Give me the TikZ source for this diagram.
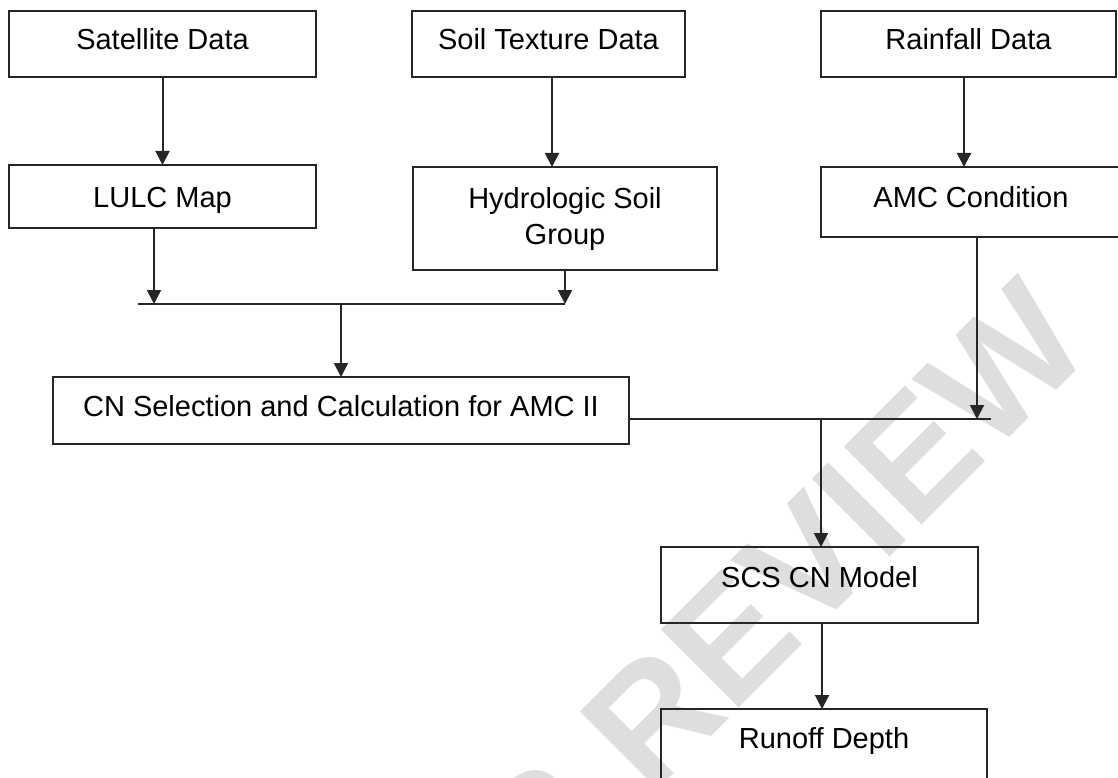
\documentclass[tikz,border=0pt]{standalone}
\usepackage{fontspec}
\setmainfont{Liberation Sans}
\usetikzlibrary{arrows.meta}
\begin{document}
\begin{tikzpicture}[x=1pt,y=-1pt,
  box/.style={draw=black!85, line width=2pt, inner sep=0pt, outer sep=0pt,
    font=\fontsize{29}{36}\selectfont, text depth=6pt},
  arr/.style={draw=black!85, line width=2pt, -{Triangle[width=14pt,length=14pt]}},
  ln/.style={draw=black!85, line width=2pt},
  wmark/.style={text=black!13, font=\fontsize{160}{160}\selectfont\bfseries, inner sep=0pt,
    text height=114.6pt, text depth=0pt}]
\useasboundingbox (0,0) rectangle (1118,778);
\fill[white] (0,0) rectangle (1118,778);
% watermark
\node[wmark, rotate=45] (wm) at (663,703) {PEER REVIEW};
% boxes
\node[box, minimum width=307pt, minimum height=66pt, text height=16.8pt] (sat) at (162.5,44) {Satellite Data};
\node[box, minimum width=273pt, minimum height=66pt, text height=16.8pt] (soil) at (548.5,44) {Soil Texture Data};
\node[box, minimum width=295pt, minimum height=66pt, text height=16.8pt] (rain) at (968.5,44) {Rainfall Data};
\node[box, minimum width=307pt, minimum height=63pt, text height=27.8pt] (lulc) at (162.5,196.5) {LULC Map};
\node[box, minimum width=304pt, minimum height=103pt, align=center] (hydro) at (565,218.5) {Hydrologic Soil\\Group};
\node[box, minimum width=300pt, minimum height=70pt, text height=16.8pt] (amc) at (971,202) {AMC Condition};
\node[box, minimum width=576pt, minimum height=67pt, text height=18.8pt] (cn) at (341,410.5) {CN Selection and Calculation for AMC II};
\node[box, minimum width=317pt, minimum height=76pt, text height=10.8pt] (scs) at (819.5,585) {SCS CN Model};
\node[box, minimum width=326pt, minimum height=76pt, text height=8.8pt] (runoff) at (824,747) {Runoff Depth};
% junction points
\coordinate (j1l) at (138,304);
\coordinate (j1r) at (565,304);
\coordinate (j1m) at (341,304);
\coordinate (j2r) at (991,419);
\coordinate (j2m) at (821,419);
% connectors
\draw[arr] (sat.south) -- (lulc.north);
\draw[arr] ([xshift=3.5pt]soil.south) -- ([xshift=3.5pt]soil.south |- hydro.north);
\draw[arr] ([xshift=-4.5pt]rain.south) -- ([xshift=-4.5pt]rain.south |- amc.north);
\draw[arr] ([xshift=-8.5pt]lulc.south) -- ([xshift=-8.5pt]lulc.south |- j1l);
\draw[arr] (hydro.south) -- (hydro.south |- j1l);
\draw[ln] (j1l) -- (j1r);
\draw[arr] (j1m) -- (j1m |- cn.north);
\draw[arr] ([xshift=6pt]amc.south) -- ([xshift=6pt]amc.south |- j2r);
\draw[ln] ([yshift=-8.5pt]cn.east) -- (j2r);
\draw[arr] (j2m) -- (j2m |- scs.north);
\draw[arr] ([xshift=2.5pt]scs.south) -- ([xshift=2.5pt]scs.south |- runoff.north);
\end{tikzpicture}
\end{document}
